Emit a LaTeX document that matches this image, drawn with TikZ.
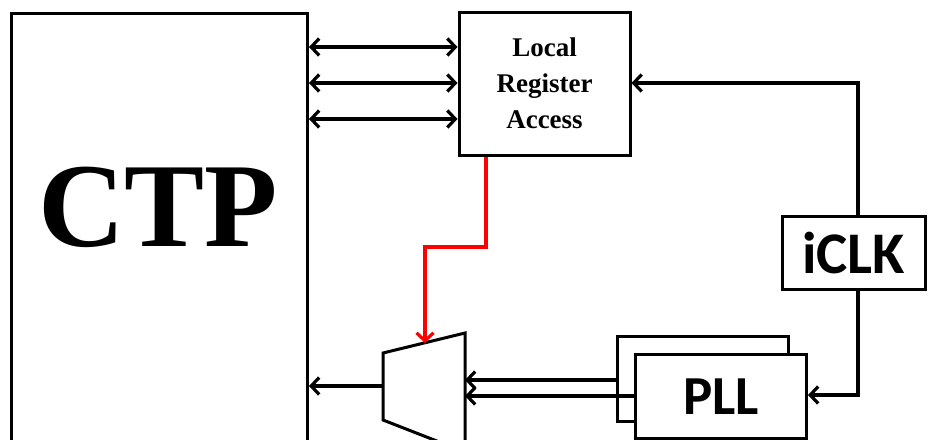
\documentclass[tikz,border=0pt]{standalone}
\usepackage{fontspec}
\setmainfont{Liberation Serif}
\newfontfamily\calib{Carlito}
\usetikzlibrary{arrows.meta,calc}
\begin{document}
\begin{tikzpicture}[x=1pt,y=-1pt,
  line width=3.6pt,
  tip/.style={line width=3.6pt,-{Straight Barb[length=8pt,width=17pt,line width=3.2pt]}},
  bitip/.style={line width=3.6pt,{Straight Barb[length=8pt,width=17pt,line width=3.2pt]}-{Straight Barb[length=8pt,width=17pt,line width=3.2pt]}},
  box/.style={draw=black,line width=3pt,fill=white,inner sep=0pt,minimum width=#1},
]
\useasboundingbox (0,0) rectangle (928,439);
% CTP
\node[box=296pt,minimum height=440pt,anchor=north west] (ctp) at (10,12) {};
\node[font=\bfseries\fontsize{120}{120}\selectfont] (ctplabel) at (158,207) {CTP};
% Local register access
\node[box=171pt,minimum height=143pt,align=center,font=\bfseries\fontsize{27}{36}\selectfont] (lra) at (544.5,83.5) {Local\\Register\\Access};
% arrows CTP <-> LRA
\foreach \yy in {47,83,119}
  \draw[bitip] (ctp.east |- 0,\yy) -- (lra.west |- 0,\yy);
% mux
\coordinate (mlt) at (383,353);
\coordinate (mrt) at (465,333);
\coordinate (mrb) at (465,452);
\coordinate (mlb) at (383,420);
\draw[line width=3pt,line join=miter] (mrb) -- (mlb) -- (mlt) -- (mrt) -- (mrb);
\coordinate (muxout) at (383,386);
\coordinate (muxsel) at (425,343);
\draw[tip] (muxout) -- (ctp.east |- muxout);
% red select line
\draw[red,tip] (lra.south -| 486,0) -- (486,247) -- (425,247) -- (muxsel);
% PLLs
\node[box=171pt,minimum height=85pt,anchor=north west] (pllb) at (616,335) {};
\node[box=171pt,minimum height=84pt,anchor=north west,font=\calib\bfseries\fontsize{55}{55}\selectfont] (pll) at (634,353) {PLL};
\draw[tip] (pllb.west |- 0,380) -- (mrt |- 0,380);
\draw[tip] (pll.west |- 0,396) -- (mrt |- 0,396);
% iCLK
\node[box=143pt,minimum height=73pt,font=\calib\bfseries\fontsize{59}{59}\selectfont] (iclk) at (853.5,252.5) {iCLK};
\draw[tip] (iclk.north -| 858,0) -- (858,83) -- (lra.east |- 0,83);
\draw[tip] (iclk.south -| 858,0) -- (858,395) -- (pll.east |- 0,395);
\end{tikzpicture}
\end{document}
